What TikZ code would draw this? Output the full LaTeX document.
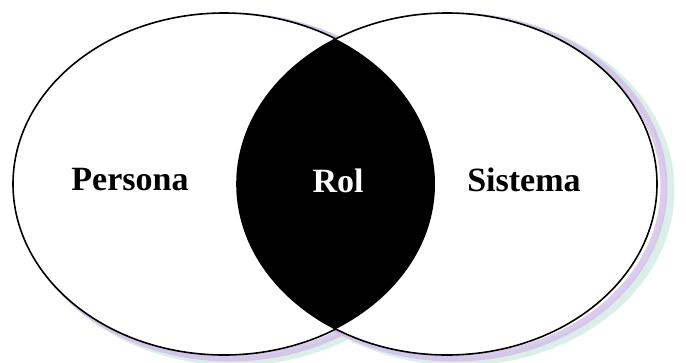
\documentclass[tikz,border=0pt]{standalone}
\usepackage{fontspec}
\setmainfont{Liberation Serif}
\usetikzlibrary{shapes.geometric}
\definecolor{sombravioleta}{RGB}{210,190,232}
\definecolor{sombraverde}{RGB}{195,228,218}

\begin{document}
\begin{tikzpicture}[x=1pt,y=-1pt,
  conjunto/.style={draw,ellipse,fill=white,line width=1.6pt,minimum width=422pt,minimum height=342pt,inner sep=0pt},
  etiqueta/.style={font=\bfseries\fontsize{34}{34}\selectfont}]
  \useasboundingbox[fill=white] (0,0) rectangle (686,362);
  % sombra difusa
  \draw[line width=9pt,sombraverde,opacity=0.6] (235,190) ellipse (211pt and 171pt);
  \draw[line width=9pt,sombraverde,opacity=0.6] (460,190) ellipse (210pt and 171pt);
  \draw[line width=7pt,sombravioleta,opacity=0.8] (230,187) ellipse (211pt and 171pt);
  \draw[line width=7pt,sombravioleta,opacity=0.8] (454,187) ellipse (210pt and 171pt);
  \node[conjunto] (persona) at (224,184) {};
  \node[conjunto,minimum width=420pt] (sistema) at (447,184) {};
  % interseccion
  \begin{scope}
    \clip (persona.center) ellipse (211pt and 171pt);
    \fill[black] (sistema.center) ellipse (210pt and 171pt);
  \end{scope}
  \node[etiqueta] (tpersona) at (130,180) {Persona};
  \node[etiqueta,text=white,fill=black,minimum width=108pt,minimum height=58pt] (trol) at (338,181) {Rol};
  \node[etiqueta] (tsistema) at (524,180) {Sistema};
\end{tikzpicture}
\end{document}
